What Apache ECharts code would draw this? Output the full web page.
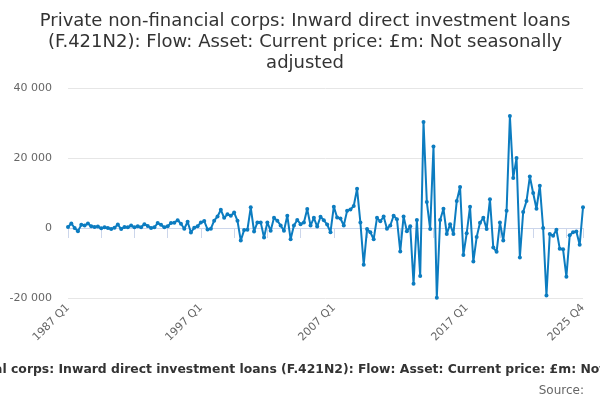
<!DOCTYPE html>
<html>
<head>
<meta charset="utf-8">
<script src="https://cdn.jsdelivr.net/npm/echarts@6/dist/echarts.min.js"></script>
<style>
  html, body { margin: 0; padding: 0; background: #fff; }
  #chart { width: 600px; height: 400px; }
</style>
</head>
<body>
<div id="chart"></div>
<script>
var titleText = 'Private non-financial corps: Inward direct investment loans (F.421N2): Flow: Asset: Current price: £m: Not seasonally adjusted';
var firstYear = 1987;
var lastYear = 2025;
var quarterNames = ['Q1', 'Q2', 'Q3', 'Q4'];
var yTicks = [-20000, 0, 20000, 40000];

// £m, 1987 Q1 .. 2025 Q4
var values = [
    300, 1300, 0, -900, 900, 700, 1300, 500, 300, 400,
    -100, 200, 0, -300, 100, 1000, -300, 300, 200, 700,
    200, 500, 200, 1100, 600, 0, 200, 1400, 900, 200,
    500, 1400, 1500, 2200, 1200, -200, 1800, -1300, 100, 500,
    1600, 2000, -400, -200, 2100, 3300, 5200, 2900, 3900, 3500,
    4400, 2100, -3600, -600, -500, 5900, -1000, 1600, 1600, -2700,
    1600, -800, 2900, 2100, 700, -800, 3500, -3200, 700, 2300,
    1100, 1600, 5400, 700, 2900, 400, 3200, 2200, 1000, -1200,
    6100, 3000, 2700, 700, 4900, 5300, 6300, 11200, 1600, -10500,
    -300, -1200, -3200, 2900, 1900, 3300, -200, 700, 3500, 2500,
    -6700, 3300, -900, 500, -15900, 2300, -13700, 30300, 7400, -300,
    23300, -19900, 2300, 5500, -1700, 1100, -1700, 7700, 11700, -7700,
    -1500, 6100, -9600, -2600, 1500, 2900, -300, 8200, -5600, -6800,
    1600, -3600, 4900, 32000, 14300, 20000, -8400, 4600, 7700, 14700,
    10000, 5500, 12100, 0, -19300, -1700, -2200, -500, -5900, -6100,
    -13900, -2100, -1200, -1000, -4800, 5900
];

var categories = [];
for (var y = firstYear; y <= lastYear; y++) {
    for (var q = 0; q < 4; q++) {
        categories.push(y + ' ' + quarterNames[q]);
    }
}
var lastIndex = categories.length - 1;

function spaced(v) {
    return String(v).replace(/\B(?=(\d{3})+(?!\d))/g, ' ');
}

var myChart = echarts.init(document.getElementById('chart'));
var option = {
    animation: false,
    textStyle: { fontFamily: 'DejaVu Sans' },
    title: [
        {
            text: titleText.replace(' loans ', ' loans\n').replace(' seasonally ', ' seasonally\n'),
            left: 300,
            top: 6,
            textAlign: 'center',
            textStyle: { fontSize: 18, lineHeight: 21, fontWeight: 'normal', color: '#333333' }
        },
        {
            text: titleText,
            left: 300,
            top: 359,
            textAlign: 'center',
            textStyle: { fontSize: 12.4, fontWeight: 'bold', color: '#333333' }
        },
        {
            text: 'Source:',
            right: 11,
            top: 380,
            textStyle: { fontSize: 12, fontWeight: 'normal', color: '#666666' }
        }
    ],
    grid: { left: 68, right: 17, top: 88, bottom: 102, containLabel: false },
    xAxis: {
        type: 'category',
        data: categories,
        boundaryGap: false,
        axisLine: { lineStyle: { color: '#ccd6eb' } },
        axisTick: {
            length: 10,
            lineStyle: { color: '#ccd6eb' },
            interval: function (i) { return i % 10 === 0 || i === lastIndex; }
        },
        axisLabel: {
            rotate: 45,
            color: '#666666',
            fontSize: 11,
            margin: 8,
            interval: function (i) { return i % 40 === 0 || i === lastIndex; }
        },
        splitLine: { show: false }
    },
    yAxis: {
        type: 'value',
        min: yTicks[0],
        max: yTicks[yTicks.length - 1],
        interval: 20000,
        axisLine: { show: false },
        axisTick: { show: false },
        axisLabel: { color: '#666666', fontSize: 11, margin: 16, formatter: spaced },
        splitLine: { lineStyle: { color: '#e6e6e6' } }
    },
    series: [{
        type: 'line',
        data: values,
        symbol: 'circle',
        symbolSize: 4,
        showAllSymbol: true,
        itemStyle: { color: '#0c7cc0' },
        lineStyle: { color: '#0c7cc0', width: 2 }
    }]
};
myChart.setOption(option);
</script>
</body>
</html>
